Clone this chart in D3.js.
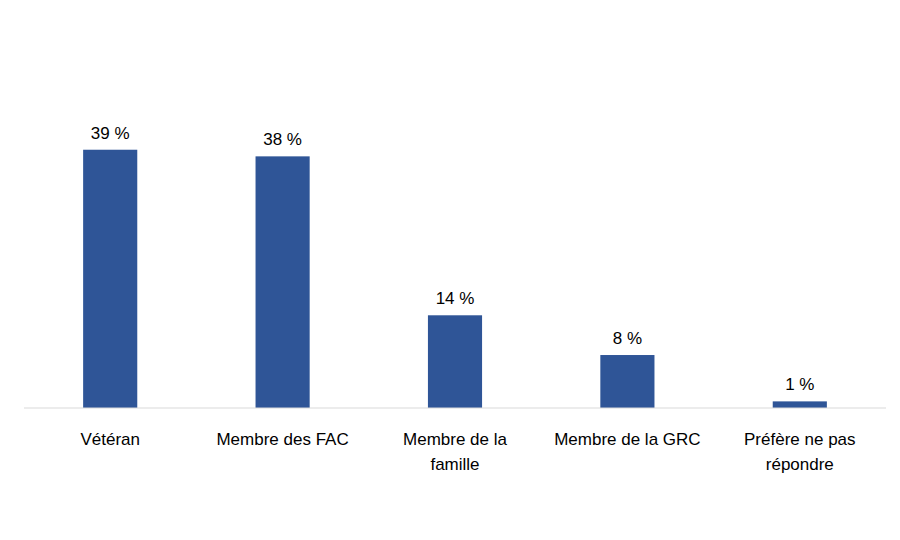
<!DOCTYPE html>
<html><head><meta charset="utf-8">
<script src="https://cdn.jsdelivr.net/npm/d3@7"></script>
<style>body{margin:0;background:#fff}</style></head>
<body><svg id="c" width="900" height="540"></svg>
<script>
const categories = [["Vétéran"],["Membre des FAC"],["Membre de la","famille"],["Membre de la GRC"],["Préfère ne pas","répondre"]];
const values = [39,38,14,8,1];
const svg = d3.select("#c");
const font = "'Liberation Sans', Arial, sans-serif";
const x = d3.scaleBand().domain(d3.range(values.length)).range([24,886]).paddingInner(0.686).paddingOuter(0.343);
const y = d3.scaleLinear().domain([0,45]).range([408,110]);
svg.selectAll("rect").data(values).join("rect")
  .attr("x",(d,i)=>x(i)).attr("width",x.bandwidth())
  .attr("y",d=>y(d)).attr("height",d=>y(0)-y(d)).attr("fill","#2F5597");
svg.selectAll("text.v").data(values).join("text").attr("class","v")
  .attr("x",(d,i)=>x(i)+x.bandwidth()/2).attr("y",d=>y(d)-11)
  .attr("text-anchor","middle").attr("font-family",font).attr("font-size",17).attr("fill","#000")
  .text(d=>d+" %");
svg.append("line").attr("x1",24).attr("x2",886).attr("y1",y(0)).attr("y2",y(0)).attr("stroke","#d9d9d9");
const g = svg.selectAll("text.c").data(categories).join("text").attr("class","c")
  .attr("text-anchor","middle").attr("font-family",font).attr("font-size",17).attr("fill","#000");
g.selectAll("tspan").data((d,i)=>d.map(s=>({s,i}))).join("tspan")
  .attr("x",d=>x(d.i)+x.bandwidth()/2).attr("y",(d,j)=>445+j*25).text(d=>d.s);
</script></body></html>
